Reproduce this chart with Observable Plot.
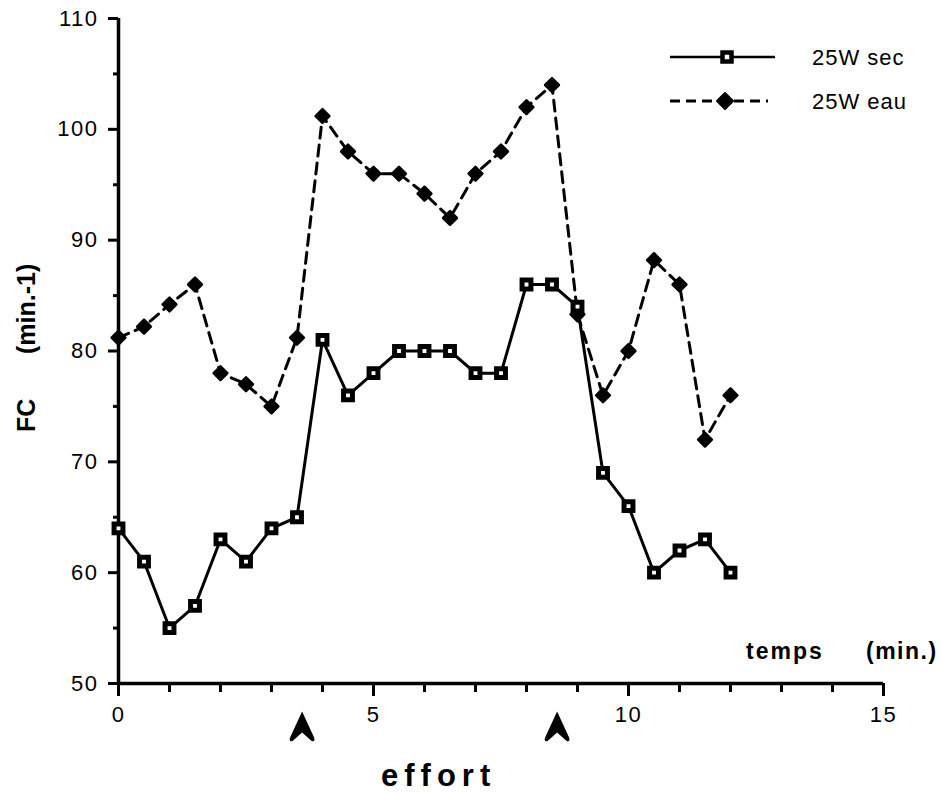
<!DOCTYPE html>
<html>
<head>
<meta charset="utf-8">
<script src="https://cdn.jsdelivr.net/npm/d3@7"></script>
<script src="https://cdn.jsdelivr.net/npm/@observablehq/plot@0.6"></script>
<style>
  html, body { margin: 0; padding: 0; background: white; }
  #wrap { position: relative; width: 942px; height: 794px; }
  #wrap svg.overlay { position: absolute; left: 0; top: 0; pointer-events: none; }
</style>
</head>
<body>
<div id="wrap"></div>
<script>
// ---- data ----
const times = [0, 0.5, 1, 1.5, 2, 2.5, 3, 3.5, 4, 4.5, 5, 5.5, 6, 6.5, 7, 7.5, 8, 8.5, 9, 9.5, 10, 10.5, 11, 11.5, 12];
const sec = [64, 61, 55, 57, 63, 61, 64, 65, 81, 76, 78, 80, 80, 80, 78, 78, 86, 86, 84, 69, 66, 60, 62, 63, 60];
const eau = [81.2, 82.2, 84.2, 86, 78, 77, 75, 81.2, 101.2, 98, 96, 96, 94.2, 92, 96, 98, 102, 104, 83.3, 76, 80, 88.2, 86, 72, 76];
const seriesNames = ["25W sec", "25W eau"];
const effortAt = [3.6, 8.6];
const xMajorTicks = [0, 5, 10, 15];
const xMinorTicks = [1, 2, 3, 4, 6, 7, 8, 9, 11, 12, 13, 14];
const yMajorTicks = [50, 60, 70, 80, 90, 100, 110];
const yMinorTicks = [55, 65, 75, 85, 95, 105];

const rows = times.map((t, i) => ({t, sec: sec[i], eau: eau[i]}));

const arrowHead = {
  draw(context) {
    context.moveTo(0, -15);
    context.lineTo(12, 11);
    context.quadraticCurveTo(13.5, 15.5, 9.5, 14.5);
    context.lineTo(0, 6);
    context.lineTo(-9.5, 14.5);
    context.quadraticCurveTo(-13.5, 15.5, -12, 11);
    context.closePath();
  }
};

const noLabel = () => "";

const chart = Plot.plot({
  width: 942,
  height: 794,
  marginLeft: 118,
  marginRight: 59,
  marginTop: 18,
  marginBottom: 111,
  x: {domain: [0, 15]},
  y: {domain: [50, 110]},
  style: {fontFamily: "'Liberation Sans', Arial, sans-serif", fontSize: "22px", color: "black", background: "white", letterSpacing: "1.5px"},
  marks: [
    Plot.axisX({ticks: xMinorTicks, tickSize: 9, strokeWidth: 3, tickFormat: noLabel, label: null}),
    Plot.axisX({ticks: xMajorTicks, tickSize: 13, tickPadding: 10, strokeWidth: 3, label: null}),
    Plot.axisY({ticks: yMinorTicks, tickSize: 5, strokeWidth: 3, tickFormat: noLabel, label: null}),
    Plot.axisY({ticks: yMajorTicks, tickSize: 10, tickPadding: 10, strokeWidth: 3, label: null}),
    Plot.ruleX([0], {stroke: "black", strokeWidth: 3.5}),
    Plot.ruleY([50], {stroke: "black", strokeWidth: 3.5}),
    Plot.line(rows, {x: "t", y: "eau", stroke: "black", strokeWidth: 3, strokeDasharray: "11,7"}),
    Plot.line(rows, {x: "t", y: "sec", stroke: "black", strokeWidth: 3}),
    Plot.dot(rows, {x: "t", y: "eau", symbol: "diamond2", r: 6.2, fill: "black", stroke: "black", strokeWidth: 2.5, strokeLinejoin: "round"}),
    Plot.dot(rows, {x: "t", y: "sec", symbol: "square", r: 5, fill: "white", stroke: "black", strokeWidth: 5}),
    Plot.dot(effortAt, {x: d => d, frameAnchor: "bottom", dy: 43, symbol: arrowHead, r: 6, fill: "black", stroke: "none"})
  ]
});

const wrap = document.getElementById("wrap");
wrap.appendChild(chart);

// ---- annotations & legend overlay ----
const ov = d3.select(wrap).append("svg")
  .attr("class", "overlay")
  .attr("width", 942).attr("height", 794)
  .style("font-family", "'Liberation Sans', Arial, sans-serif");

// y-axis title
ov.append("text").attr("transform", "translate(35,432) rotate(-90)")
  .attr("font-size", 25).attr("font-weight", "bold").text("FC");
ov.append("text").attr("transform", "translate(35,354) rotate(-90)")
  .attr("font-size", 25).attr("font-weight", "bold").text("(min.-1)");

// x-axis title
ov.append("text").attr("x", 746).attr("y", 659)
  .attr("font-size", 23).attr("font-weight", "bold").attr("letter-spacing", "2px").text("temps");
ov.append("text").attr("x", 866).attr("y", 659)
  .attr("font-size", 23).attr("font-weight", "bold").attr("letter-spacing", "1.5px").text("(min.)");

// effort label
ov.append("text").attr("x", 381).attr("y", 786)
  .attr("font-size", 31).attr("font-weight", "bold").attr("letter-spacing", "6px").text("effort");

// legend
const lg = ov.append("g");
lg.append("line").attr("x1", 670).attr("x2", 775).attr("y1", 57).attr("y2", 57)
  .attr("stroke", "black").attr("stroke-width", 2.5);
lg.append("rect").attr("x", 727 - 4.5).attr("y", 57 - 4.5).attr("width", 9).attr("height", 9)
  .attr("fill", "white").attr("stroke", "black").attr("stroke-width", 4.5);
lg.append("text").attr("x", 812).attr("y", 65).attr("font-size", 22).attr("letter-spacing", "1px").text(seriesNames[0]);

lg.append("line").attr("x1", 670).attr("x2", 768).attr("y1", 101).attr("y2", 101)
  .attr("stroke", "black").attr("stroke-width", 3).attr("stroke-dasharray", "10,6");
lg.append("path").attr("d", "M725,93 L733,101 L725,109 L717,101 Z")
  .attr("fill", "black").attr("stroke", "black").attr("stroke-width", 2).attr("stroke-linejoin", "round");
lg.append("text").attr("x", 812).attr("y", 109).attr("font-size", 22).attr("letter-spacing", "1px").text(seriesNames[1]);
</script>
</body>
</html>
